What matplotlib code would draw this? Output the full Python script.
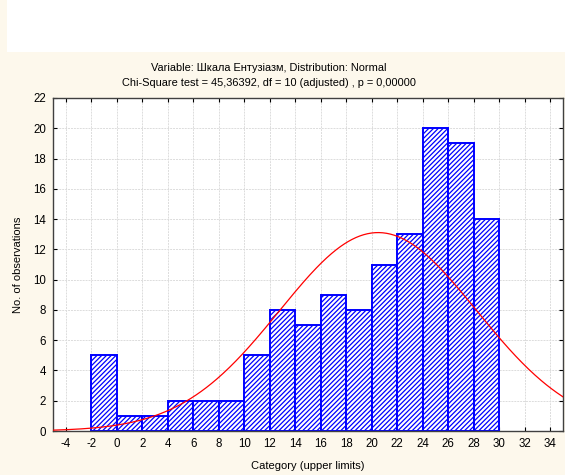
import numpy as np
import matplotlib.pyplot as plt

plt.rcParams['font.family'] = ['Liberation Sans', 'DejaVu Sans']
plt.rcParams['axes.unicode_minus'] = False
plt.rcParams['hatch.linewidth'] = 0.9
plt.rcParams['hatch.color'] = '#0000ff'

# histogram classes (upper limits) and counts
bin_edges = [-2, 0, 2, 4, 6, 8, 10, 12, 14, 16, 18, 20, 22, 24, 26, 28, 30]
counts = [5, 1, 1, 2, 2, 2, 5, 8, 7, 9, 8, 11, 13, 20, 19, 14]

# fitted normal
fit_mean = 20.5
fit_sd = 7.73
n_obs = sum(counts)
bin_width = 2

xticks = list(range(-4, 36, 2))
yticks = list(range(0, 24, 2))

bg = '#fdf8ec'
fig = plt.figure(figsize=(5.65, 4.75), dpi=100, facecolor=bg)
fig.patches.append(plt.Rectangle((7 / 565, 1 - 52 / 475), 1, 52 / 475,
                                 transform=fig.transFigure, facecolor='white',
                                 edgecolor='none', zorder=0))

ax = fig.add_axes([53 / 565, 1 - 431 / 475, 510 / 565, 333 / 475])
ax.set_facecolor('white')

lefts = bin_edges[:-1]
ax.bar(lefts, counts, width=bin_width, align='edge', facecolor='white',
       edgecolor='#0000ff', linewidth=1.4, hatch='///////', zorder=2)

xs = np.linspace(-5, 35, 400)
curve = n_obs * bin_width / (fit_sd * np.sqrt(2 * np.pi)) * np.exp(-0.5 * ((xs - fit_mean) / fit_sd) ** 2)
ax.plot(xs, curve, color='#ff0000', linewidth=0.9, zorder=3)

ax.set_xlim(-5, 35)
ax.set_ylim(0, 22)
ax.set_xticks(xticks)
ax.set_yticks(yticks)
ax.grid(True, color='#dcdcdc', linestyle=(0, (2, 1)), linewidth=0.7, zorder=0)
ax.set_axisbelow(True)
ax.tick_params(direction='in', top=True, right=True, length=3, width=0.8,
               labelsize=8.3, pad=5, colors='black')
for s in ax.spines.values():
    s.set_linewidth(1.0)
    s.set_color('#404040')

ax.set_xlabel('Category (upper limits)', fontsize=8, labelpad=8)
ax.set_ylabel('No. of observations', fontsize=8, labelpad=7)

fig.text(269 / 565, 1 - 68 / 475, 'Variable: Шкала Ентузіазм, Distribution: Normal',
         ha='center', va='center', fontsize=7.9)
fig.text(269 / 565, 1 - 83 / 475, 'Chi-Square test = 45,36392, df = 10 (adjusted) , p = 0,00000',
         ha='center', va='center', fontsize=7.9)

fig.savefig('out.png', dpi=100, facecolor=bg)
